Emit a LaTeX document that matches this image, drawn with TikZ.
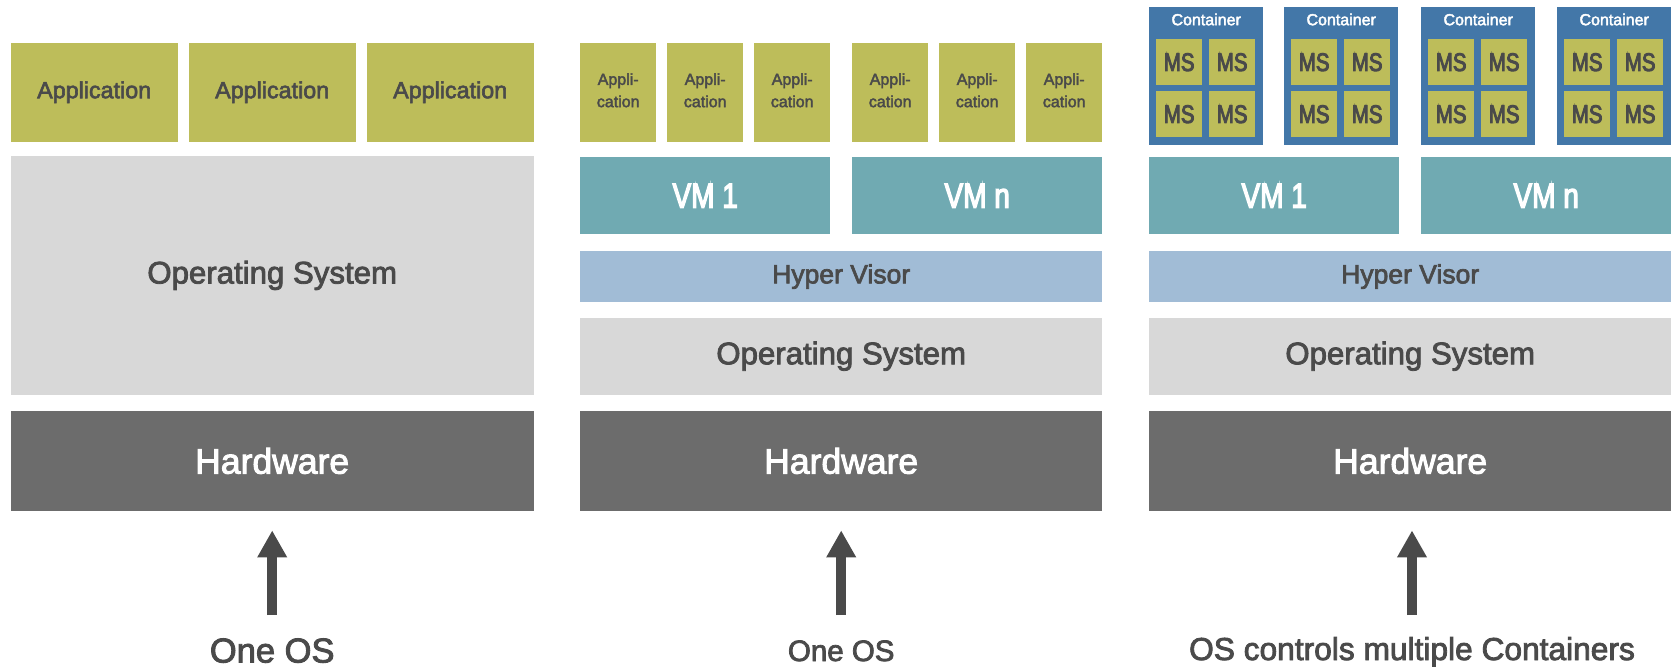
\documentclass[tikz,border=0pt]{standalone}
\usepackage{fontspec}
\setmainfont{Liberation Sans}[FakeBold=2.6]
\newfontfamily\narrowfont{Liberation Sans}[FakeBold=3.6, FakeStretch=0.8]
\usepackage{tikz}
\usetikzlibrary{positioning,calc,arrows.meta}

\definecolor{appgreen}{RGB}{189,189,90}
\definecolor{osgray}{RGB}{216,216,216}
\definecolor{hwgray}{RGB}{108,108,108}
\definecolor{vmteal}{RGB}{112,170,178}
\definecolor{hvblue}{RGB}{161,188,214}
\definecolor{ctblue}{RGB}{67,119,168}
\definecolor{txtgray}{RGB}{74,74,74}

\tikzset{
  layer/.style={rectangle, inner sep=0pt, anchor=north west, text=txtgray},
  app/.style={layer, fill=appgreen, minimum width=167pt, minimum height=99pt,
    font=\fontsize{23.3}{28}\selectfont},
  smallapp/.style={layer, fill=appgreen, minimum width=76pt, minimum height=99pt,
    align=center, text depth=4pt, font=\fontsize{16}{22.3}\selectfont},
  vm/.style={layer, fill=vmteal, text=white, minimum width=250pt, minimum height=77pt,
    font=\narrowfont\fontsize{35}{40}\selectfont},
  hyper/.style={layer, fill=hvblue, minimum width=522pt, minimum height=50.7pt,
    font=\fontsize{26.5}{30}\selectfont},
  os/.style={layer, fill=osgray, minimum width=522pt, minimum height=77pt,
    font=\fontsize{31.2}{36}\selectfont},
  hw/.style={layer, fill=hwgray, text=white, minimum width=522pt, minimum height=99.5pt,
    font=\fontsize{35.5}{40}\selectfont},
  container/.style={layer, fill=ctblue, minimum width=114pt, minimum height=137.7pt},
  conttext/.style={text=white, inner sep=0pt, font=\fontsize{16}{18}\selectfont},
  ms/.style={layer, fill=appgreen, minimum width=46pt, minimum height=46pt,
    font=\narrowfont\fontsize{25.5}{28}\selectfont},
  caption/.style={anchor=base, inner sep=0pt, text=txtgray},
  uparrow/.style={draw=txtgray, line width=9.5pt,
    -{Triangle[width=28pt,length=27pt]}, shorten >=19.5pt}
}

\begin{document}
\begin{tikzpicture}[x=1pt, y=-1pt]
    \useasboundingbox (0,0) rectangle (1671,668);

    % Left stack: applications on one OS
    \node[app] (app1) at (10.5,42.5) {Application};
    \node[app] (app2) at (188.5,42.5) {Application};
    \node[app] (app3) at (366.5,42.5) {Application};
    \node[os, minimum width=523pt, minimum height=238.5pt] (os1) at (10.5,156) {Operating System};
    \node[hw, minimum width=523pt] (hw1) at (10.5,411) {Hardware};

    % Middle stack: virtual machines
    \node[smallapp] (sapp1) at (580,42.5) {Appli-\\cation};
    \node[smallapp] (sapp2) at (667,42.5) {Appli-\\cation};
    \node[smallapp] (sapp3) at (754,42.5) {Appli-\\cation};
    \node[smallapp] (sapp4) at (852,42.5) {Appli-\\cation};
    \node[smallapp] (sapp5) at (939,42.5) {Appli-\\cation};
    \node[smallapp] (sapp6) at (1026,42.5) {Appli-\\cation};
    \node[vm] (vm1) at (580,157) {VM 1};
    \node[vm] (vmn) at (852,157) {VM n};
    \node[hyper] (hv2) at (580,251) {Hyper Visor};
    \node[os] (os2) at (580,317.5) {Operating System};
    \node[hw] (hw2) at (580,411) {Hardware};

    % Right stack: containers with microservices
    \foreach \n/\cx in {1/1149,2/1284,3/1421,4/1557} {
        \node[container] (cont\n) at (\cx,7) {};
        \node[conttext] (cont\n-title) at ([yshift=-12.5pt]cont\n.north) {Container};
        \node[ms] (cont\n-a) at (\cx+7,39) {MS};
        \node[ms] (cont\n-b) at (\cx+60,39) {MS};
        \node[ms] (cont\n-c) at (\cx+7,91) {MS};
        \node[ms] (cont\n-d) at (\cx+60,91) {MS};
    }
    \node[vm] (cvm1) at (1149,157) {VM 1};
    \node[vm] (cvmn) at (1421,157) {VM n};
    \node[hyper] (hv3) at (1149,251) {Hyper Visor};
    \node[os] (os3) at (1149,317.5) {Operating System};
    \node[hw] (hw3) at (1149,411) {Hardware};

    % Captions and arrows
    \node[caption, font=\fontsize{34.5}{40}\selectfont] (cap1) at (hw1.south |- 0,662.5) {One OS};
    \node[caption, font=\fontsize{29.5}{34}\selectfont] (cap2) at (hw2.south |- 0,661) {One OS};
    \node[caption, font=\fontsize{31.7}{36}\selectfont] (cap3) at (1412,660) {OS controls multiple Containers};

    \coordinate (up1) at (hw1.south |- 0,615);
    \coordinate (up2) at (hw2.south |- 0,615);
    \coordinate (up3) at (1412,615);
    \draw[uparrow] (up1) -- (hw1.south);
    \draw[uparrow] (up2) -- (hw2.south);
    \draw[uparrow] (up3) -- (up3 |- hw3.south);
\end{tikzpicture}
\end{document}
